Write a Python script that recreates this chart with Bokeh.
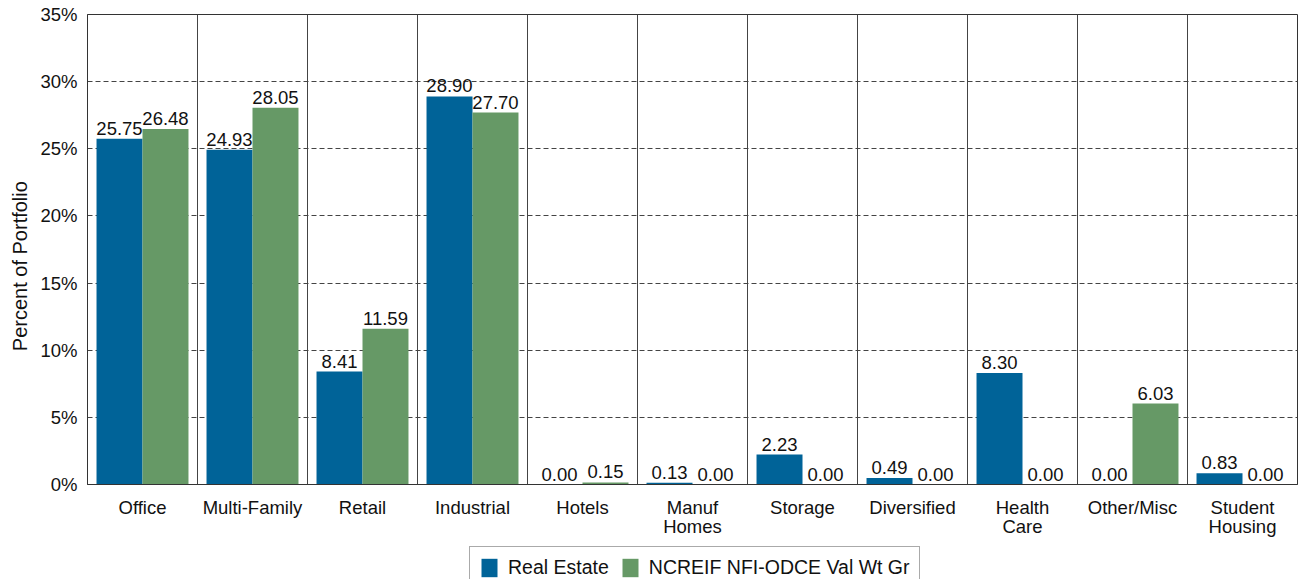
from bokeh.plotting import figure
from bokeh.layouts import column
from bokeh.models import (ColumnDataSource, FixedTicker, Range1d, Legend, LegendItem,
                          Span, PrintfTickFormatter)
from bokeh.core.properties import value
from bokeh.embed import file_html
from bokeh.resources import INLINE

categories = ["Office", "Multi-Family", "Retail", "Industrial", "Hotels", "Manuf\nHomes",
              "Storage", "Diversified", "Health\nCare", "Other/Misc", "Student\nHousing"]
real_estate = [25.75, 24.93, 8.41, 28.90, 0.00, 0.13, 2.23, 0.49, 8.30, 0.00, 0.83]
ncreif = [26.48, 28.05, 11.59, 27.70, 0.15, 0.00, 0.00, 0.00, 0.00, 6.03, 0.00]
series_names = ["Real Estate", "NCREIF NFI-ODCE Val Wt Gr"]
y_ticks = [0, 5, 10, 15, 20, 25, 30, 35]
y_title = "Percent of Portfolio"

BLUE = "#006398"
GREEN = "#669966"
FONT = "Liberation Sans"
FS = "18.5px"
BW = 0.418

n = len(categories)
idx = list(range(n))
src_a = ColumnDataSource(dict(x=[i + 0.5 - BW / 2 for i in idx], y=real_estate,
                              t=["%.2f" % v for v in real_estate]))
src_b = ColumnDataSource(dict(x=[i + 0.5 + BW / 2 for i in idx], y=ncreif,
                              t=["%.2f" % v for v in ncreif]))

p = figure(width=1300, height=545, output_backend="svg", toolbar_location=None,
           x_range=Range1d(0, n), y_range=Range1d(0, 35),
           min_border_left=87, min_border_right=3, min_border_top=14, min_border_bottom=61)
p.background_fill_color = "white"
p.border_fill_color = "white"
p.outline_line_color = "#333333"
p.outline_line_width = 1

p.vbar(x="x", top="y", width=BW, source=src_a, fill_color=BLUE, line_color=None)
p.vbar(x="x", top="y", width=BW, source=src_b, fill_color=GREEN, line_color=None)

for s in (src_a, src_b):
    p.text(x="x", y="y", text="t", source=s, text_align="center", text_baseline="bottom",
           y_offset=-4, text_font=value(FONT), text_font_size=FS, text_color="#111111")

# category separators
for i in range(1, n):
    p.add_layout(Span(location=i, dimension="height", line_color="#444444", line_width=1))

p.xgrid.visible = False
p.ygrid.ticker = FixedTicker(ticks=y_ticks[1:-1])
p.ygrid.grid_line_color = "#444444"
p.ygrid.grid_line_dash = "5 3"
p.ygrid.grid_line_width = 1

p.yaxis.ticker = FixedTicker(ticks=y_ticks)
p.yaxis.formatter = PrintfTickFormatter(format="%d%%")
# trailing no-break spaces nudge the centred title slightly downward, as in the original
p.yaxis.axis_label = y_title + "\u00a0" * 6
p.yaxis.axis_label_text_font = FONT
p.yaxis.axis_label_text_font_style = "normal"
p.yaxis.axis_label_text_font_size = "20px"
p.yaxis.axis_label_text_color = "#111111"
p.yaxis.axis_label_standoff = 6

p.xaxis.ticker = FixedTicker(ticks=[i + 0.5 for i in idx])
p.xaxis.major_label_overrides = {i + 0.5: c for i, c in enumerate(categories)}
p.xaxis.major_label_text_line_height = 0.92

for ax in (p.xaxis, p.yaxis):
    ax.major_label_text_font = FONT
    ax.major_label_text_font_size = FS
    ax.major_label_text_color = "#111111"
    ax.major_tick_in = 0
    ax.major_tick_out = 0
    ax.minor_tick_in = 0
    ax.minor_tick_out = 0
    ax.axis_line_color = "#333333"
p.yaxis.major_label_standoff = 10
p.xaxis.major_label_standoff = 12

# legend strip (hidden proxy renderers provide the swatches)
q = figure(width=1300, height=34, output_backend="svg", toolbar_location=None,
           x_range=Range1d(0, n), y_range=Range1d(0, 35),
           min_border_left=0, min_border_right=0, min_border_top=0, min_border_bottom=0)
q.axis.visible = False
q.grid.visible = False
q.outline_line_color = None
l1 = q.vbar(x="x", top="y", width=BW, source=src_a, fill_color=BLUE, line_color=None,
            visible=False)
l2 = q.vbar(x="x", top="y", width=BW, source=src_b, fill_color=GREEN, line_color=None,
            visible=False)
legend = Legend(items=[LegendItem(label=series_names[0], renderers=[l1]),
                       LegendItem(label=series_names[1], renderers=[l2])],
                orientation="horizontal", location=(382, -10),
                label_text_font=FONT, label_text_font_size="19.5px", label_text_color="#111111",
                glyph_width=20, glyph_height=23, label_standoff=9, spacing=11,
                padding=9, margin=0, border_line_color="#555555", border_line_width=1,
                label_height=23, background_fill_alpha=1.0, inactive_fill_alpha=0.0)
q.add_layout(legend)

layout = column(p, q, spacing=0)
open("out.html", "w").write(file_html(layout, INLINE))
